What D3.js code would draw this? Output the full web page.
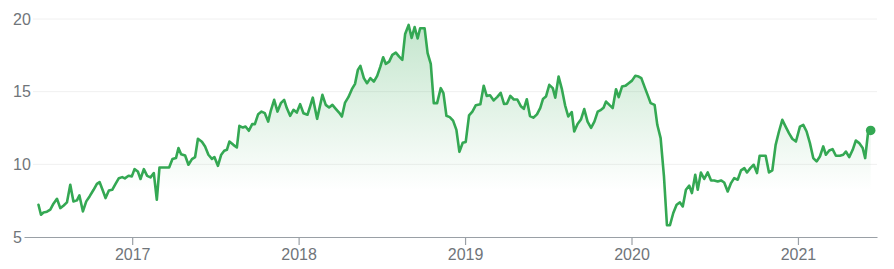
<!DOCTYPE html>
<html><head><meta charset="utf-8">
<script src="https://cdn.jsdelivr.net/npm/d3@7"></script>
<style>
html,body{margin:0;padding:0;background:#fff;}
svg{display:block;font-family:Arial,"Liberation Sans",sans-serif;}
</style></head><body>
<svg id="chart" width="894" height="269"></svg>
<script>
// time as decimal years
const dates = [
2016.437,2016.452,2016.467,2016.488,2016.508,2016.527,2016.548,2016.568,2016.587,2016.608,
2016.628,2016.647,2016.668,2016.683,2016.704,2016.724,2016.744,2016.768,2016.788,2016.804,
2016.824,2016.840,2016.860,2016.880,2016.900,2016.920,2016.940,2016.956,2016.978,2016.998,
2017.014,2017.034,2017.050,2017.070,2017.090,2017.110,2017.130,2017.148,2017.164,2017.188,
2017.222,2017.242,2017.263,2017.278,2017.294,2017.318,2017.338,2017.359,2017.378,2017.395,
2017.419,2017.438,2017.458,2017.479,2017.494,2017.515,2017.535,2017.553,2017.569,2017.584,
2017.608,2017.629,2017.644,2017.665,2017.681,2017.701,2017.721,2017.737,2017.757,2017.777,
2017.797,2017.817,2017.833,2017.853,2017.873,2017.893,2017.913,2017.929,2017.949,2017.969,
2017.989,2018.009,2018.029,2018.053,2018.069,2018.085,2018.111,2018.143,2018.163,2018.183,
2018.203,2018.223,2018.243,2018.260,2018.279,2018.299,2018.320,2018.339,2018.356,2018.371,
2018.392,2018.411,2018.431,2018.452,2018.472,2018.491,2018.508,2018.524,2018.544,2018.563,
2018.584,2018.604,2018.623,2018.640,2018.661,2018.679,2018.697,2018.715,2018.730,2018.757,
2018.775,2018.794,2018.812,2018.832,2018.854,2018.870,2018.888,2018.908,2018.928,2018.948,
2018.966,2018.986,2019.004,2019.024,2019.044,2019.064,2019.092,2019.112,2019.130,2019.150,
2019.172,2019.194,2019.214,2019.234,2019.252,2019.272,2019.293,2019.314,2019.335,2019.353,
2019.371,2019.390,2019.410,2019.432,2019.452,2019.468,2019.486,2019.506,2019.527,2019.542,
2019.562,2019.581,2019.601,2019.620,2019.641,2019.656,2019.676,2019.696,2019.716,2019.736,
2019.757,2019.777,2019.797,2019.817,2019.832,2019.847,2019.867,2019.887,2019.907,2019.923,
2019.943,2019.963,2019.983,2020.003,2020.023,2020.043,2020.059,2020.079,2020.099,2020.115,
2020.139,2020.155,2020.175,2020.195,2020.213,2020.231,2020.251,2020.271,2020.291,2020.308,
2020.327,2020.347,2020.363,2020.383,2020.398,2020.417,2020.437,2020.458,2020.478,2020.497,
2020.518,2020.538,2020.557,2020.578,2020.598,2020.617,2020.638,2020.658,2020.678,2020.694,
2020.714,2020.734,2020.754,2020.770,2020.806,2020.826,2020.846,2020.866,2020.886,2020.906,
2020.926,2020.946,2020.966,2020.988,2021.012,2021.032,2021.052,2021.072,2021.092,2021.112,
2021.132,2021.152,2021.168,2021.188,2021.208,2021.228,2021.252,2021.272,2021.288,2021.308,
2021.329,2021.348,2021.368,2021.389,2021.404,2021.422,2021.437
];
const prices = [
7.22,6.53,6.69,6.74,6.88,7.29,7.63,6.99,7.15,7.38,
8.59,7.45,7.52,7.86,6.76,7.45,7.79,8.25,8.66,8.78,
8.18,7.68,8.20,8.25,8.66,9.05,9.12,9.03,9.21,9.17,
9.67,9.51,8.99,9.67,9.21,9.10,9.40,7.56,9.78,9.78,
9.78,10.36,10.43,11.12,10.70,10.61,9.97,10.36,10.50,11.76,
11.55,11.23,10.66,10.38,10.50,9.90,10.66,10.93,11.00,11.57,
11.34,11.16,12.65,12.53,12.60,12.31,12.77,12.77,13.45,13.63,
13.52,12.94,13.70,14.44,13.63,14.21,14.44,13.87,13.34,13.75,
13.56,14.14,13.52,13.41,13.98,14.59,13.13,14.78,14.09,13.91,
14.09,13.82,13.56,13.29,14.25,14.62,15.17,15.54,16.50,16.77,
15.93,15.58,15.93,15.69,16.09,16.72,17.37,16.91,17.07,17.53,
17.69,17.41,17.19,18.97,19.59,18.70,19.45,18.66,19.36,19.36,
17.65,16.91,14.21,14.21,15.24,14.90,13.34,13.25,13.01,12.37,
10.86,11.48,11.54,13.37,13.63,14.06,14.13,15.41,14.71,14.75,
14.40,14.64,14.92,14.16,14.18,14.71,14.46,14.46,14.00,13.82,
14.48,13.32,13.21,13.44,13.89,14.49,14.66,15.47,15.24,14.59,
16.04,15.21,14.06,13.29,13.60,12.26,12.77,13.08,13.80,12.94,
12.51,12.94,13.63,13.75,13.89,14.32,14.09,13.87,15.17,14.62,
15.35,15.40,15.58,15.76,16.09,16.04,15.93,15.31,14.71,14.21,
14.09,12.72,11.80,9.17,5.81,5.81,6.65,7.22,7.38,7.10,
8.25,8.53,8.02,9.28,8.25,9.44,8.99,9.44,8.89,8.89,
8.82,8.89,8.75,8.13,8.71,9.05,8.94,9.58,9.74,9.44,
9.74,9.97,9.40,10.59,10.59,9.44,9.58,11.34,12.26,13.06,
12.60,12.15,11.76,11.57,12.60,12.72,12.26,11.46,10.43,10.20,
10.54,11.23,10.66,10.95,11.05,10.59,10.59,10.66,10.88,10.50,
11.00,11.64,11.46,11.12,10.43,12.26,12.33
];
const yTickValues = [5, 10, 15, 20];
const yTickLabels = ["5", "10", "15", "20"];
const xTickValues = [2017, 2018, 2019, 2020, 2021];
const xTickLabels = ["2017", "2018", "2019", "2020", "2021"];

const data = dates.map((t, i) => ({t, v: prices[i]}));

const svg = d3.select("#chart");
const x = d3.scaleLinear().domain([2016.35, 2021.475]).range([24, 877]);
const y = d3.scaleLinear().domain([5, 20]).range([237, 19]);

const green = "#34a853";
const textColor = "#70757a";

// gradient
const defs = svg.append("defs");
const grad = defs.append("linearGradient")
  .attr("id", "fillGrad").attr("gradientUnits", "userSpaceOnUse")
  .attr("x1", 0).attr("x2", 0).attr("y1", y(20)).attr("y2", y(8.2));
grad.append("stop").attr("offset", 0).attr("stop-color", green).attr("stop-opacity", 0.3);
grad.append("stop").attr("offset", 1).attr("stop-color", green).attr("stop-opacity", 0);

// gridlines
svg.append("g").selectAll("line")
  .data(yTickValues.filter(d => d !== 5))
  .join("line")
  .attr("x1", 33).attr("x2", 877)
  .attr("y1", d => y(d)).attr("y2", d => y(d))
  .attr("stroke", "#f0f0f0").attr("stroke-width", 1);

// y labels
svg.append("g").selectAll("text")
  .data(yTickValues)
  .join("text")
  .attr("x", 13).attr("y", d => y(d))
  .attr("dy", "0.36em")
  .attr("fill", textColor)
  .attr("font-size", 16)
  .text((d, i) => yTickLabels[i]);

// area
svg.append("path")
  .datum(data)
  .attr("fill", "url(#fillGrad)")
  .attr("d", d3.area().x(d => x(d.t)).y0(y(5)).y1(d => y(d.v)));

// x axis
const xAxis = d3.axisBottom(x)
  .tickValues(xTickValues)
  .tickFormat((d, i) => xTickLabels[i])
  .tickSize(8).tickPadding(4).tickSizeOuter(0);
const gx = svg.append("g").attr("transform", `translate(0,${y(5)})`).call(xAxis);
gx.select(".domain").attr("stroke", "#9aa0a6").attr("stroke-width", 1.2);
gx.selectAll(".tick line").attr("stroke", "#9aa0a6").attr("stroke-width", 1.2);
gx.selectAll(".tick text").attr("fill", textColor).attr("font-size", 16)
  .attr("font-family", "Arial, 'Liberation Sans', sans-serif");

// line
svg.append("path")
  .datum(data)
  .attr("fill", "none")
  .attr("stroke", green)
  .attr("stroke-width", 2.6)
  .attr("stroke-linejoin", "round")
  .attr("stroke-linecap", "round")
  .attr("d", d3.line().x(d => x(d.t)).y(d => y(d.v)));

// end dot
const last = data[data.length - 1];
svg.append("circle")
  .attr("cx", x(last.t)).attr("cy", y(last.v)).attr("r", 4.8)
  .attr("fill", green);
</script>
</body></html>
